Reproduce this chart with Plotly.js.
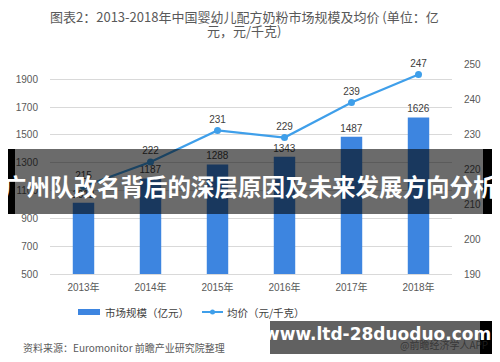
<!DOCTYPE html>
<html>
<head>
<meta charset="utf-8">
<script src="https://cdn.plot.ly/plotly-3.0.1.min.js"></script>
<style>html,body{margin:0;padding:0;background:#fff;}#chart{width:500px;height:362px;}</style>
</head>
<body>
<div id="chart"></div>
<script>
const years = ["2013年", "2014年", "2015年", "2016年", "2017年", "2018年"];
const marketSize = [1012, 1187, 1288, 1343, 1487, 1626];
const avgPrice = [215, 222, 231, 229, 239, 247];
const leftTicks = [500, 700, 900, 1100, 1300, 1500, 1700, 1900];
const rightTicks = [190, 200, 210, 220, 230, 240, 250];
const seriesNames = ["市场规模（亿元）", "均价（元/千克）"];
const titleLines = ["图表2：2013-2018年中国婴幼儿配方奶粉市场规模及均价 (单位：亿", "元，元/千克)"];
const sourceText = "资料来源：Euromonitor 前瞻产业研究院整理";
const bannerText = "广州队改名背后的深层原因及未来发展方向分析";
const siteText = "www.ltd-28duoduo.com";
const appText = "@前瞻经济学人APP";

const FONT = "Liberation Sans, Noto Sans CJK SC, sans-serif";
const CJK = "Noto Sans CJK SC, sans-serif";
const barColor = "#3d85e0";
const lineColor = "#3f9fea";

// plot area in pixels: x 50..452, y 64..274
const L = 50, R = 452, T = 64, B = 274;
const px = x => (x - L) / (R - L);
const py = y => (B - y) / (B - T);

const traces = [
  {
    type: "bar", x: years, y: marketSize, name: seriesNames[0],
    marker: {color: barColor}, text: marketSize.map(String), textposition: "outside",
    constraintext: "none",
    textfont: {size: 10, color: "#404040", family: FONT}, cliponaxis: false,
    showlegend: false, hoverinfo: "none"
  },
  {
    type: "scatter", mode: "lines+markers+text", x: years, y: avgPrice, yaxis: "y2",
    name: seriesNames[1], line: {color: lineColor, width: 2.2},
    marker: {color: lineColor, size: 7}, text: avgPrice.map(String),
    textposition: "top center", textfont: {size: 10, color: "#404040", family: FONT},
    cliponaxis: false, showlegend: false, hoverinfo: "none"
  }
];

const shapes = [
  // custom legend swatches
  {type: "rect", xref: "paper", yref: "paper", x0: px(78), x1: px(100), y0: py(309), y1: py(315),
   fillcolor: barColor, line: {width: 0}},
  {type: "line", xref: "paper", yref: "paper", x0: px(202), x1: px(223), y0: py(312), y1: py(312),
   line: {color: lineColor, width: 2}},
  {type: "circle", xref: "paper", yref: "paper", x0: px(210), x1: px(215), y0: py(309.5), y1: py(314.5),
   fillcolor: lineColor, line: {width: 0}},
  // overlay banner
  {type: "rect", layer: "above", xref: "paper", yref: "paper", x0: px(15), x1: px(483), y0: py(214), y1: py(149),
   fillcolor: "rgba(0,0,0,0.58)", line: {width: 0}},
  {type: "rect", layer: "above", xref: "paper", yref: "paper", x0: px(8), x1: px(15), y0: py(214), y1: py(149),
   fillcolor: "#000", line: {width: 0}},
  {type: "rect", layer: "above", xref: "paper", yref: "paper", x0: px(483), x1: px(492), y0: py(214), y1: py(149),
   fillcolor: "#000", line: {width: 0}},
  // bottom site banner
  {type: "rect", layer: "above", xref: "paper", yref: "paper", x0: px(270), x1: px(480), y0: py(354), y1: py(321),
   fillcolor: "rgba(0,0,0,0.62)", line: {width: 0}},
  {type: "rect", layer: "above", xref: "paper", yref: "paper", x0: px(480), x1: px(492), y0: py(354), y1: py(321),
   fillcolor: "#000", line: {width: 0}}
];

const annotations = [
  {text: titleLines[0], xref: "paper", yref: "paper", x: px(244), y: py(17), showarrow: false,
   font: {size: 13, color: "#595959", family: CJK}, xanchor: "center", yanchor: "middle"},
  {text: titleLines[1], xref: "paper", yref: "paper", x: px(244), y: py(31), showarrow: false,
   font: {size: 13, color: "#595959", family: CJK}, xanchor: "center", yanchor: "middle"},
  {text: seriesNames[0], xref: "paper", yref: "paper", x: px(103), y: py(312), showarrow: false,
   font: {size: 10.5, color: "#404040", family: CJK}, xanchor: "left", yanchor: "middle"},
  {text: seriesNames[1], xref: "paper", yref: "paper", x: px(225), y: py(312), showarrow: false,
   font: {size: 10.5, color: "#404040", family: CJK}, xanchor: "left", yanchor: "middle"},
  {text: sourceText, xref: "paper", yref: "paper", x: px(21), y: py(347), showarrow: false,
   font: {size: 10, color: "#595959", family: CJK}, xanchor: "left", yanchor: "middle"},
  {text: appText, xref: "paper", yref: "paper", x: px(490), y: py(344), showarrow: false,
   font: {size: 10, color: "rgba(40,40,40,0.75)", family: CJK}, xanchor: "right", yanchor: "middle"},
  {text: "<b>" + siteText + "</b>", xref: "paper", yref: "paper", x: px(377), y: py(334), showarrow: false,
   font: {size: 17, color: "#ffffff", family: "DejaVu Sans, sans-serif"}, xanchor: "center", yanchor: "middle"},
  {text: "<b>" + bannerText + "</b>", xref: "paper", yref: "paper", x: px(250), y: py(186), showarrow: false,
   font: {size: 23.5, color: "#ffffff", family: CJK}, xanchor: "center", yanchor: "middle"}
];

const layout = {
  width: 500, height: 362,
  margin: {l: L, r: 500 - R, t: T, b: 362 - B, pad: 0},
  paper_bgcolor: "#ffffff", plot_bgcolor: "#ffffff",
  font: {family: FONT, size: 10, color: "#595959"},
  bargap: 0.68,
  showlegend: false,
  xaxis: {
    type: "category", showgrid: false, zeroline: false, showline: true, linecolor: "#d9d9d9", linewidth: 1,
    ticks: "outside", ticklen: 4, tickcolor: "rgba(0,0,0,0)",
    tickfont: {size: 10, color: "#595959", family: FONT}
  },
  yaxis: {
    range: [500, 2010], tickmode: "array", tickvals: leftTicks, showgrid: true, gridcolor: "#d9d9d9",
    gridwidth: 1, zeroline: false, showline: false, ticks: "outside", ticklen: 9, tickcolor: "rgba(0,0,0,0)",
    tickfont: {size: 10, color: "#595959", family: FONT}
  },
  yaxis2: {
    overlaying: "y", side: "right", range: [190, 250], tickmode: "array", tickvals: rightTicks,
    showgrid: false, zeroline: false, showline: false, ticks: "outside", ticklen: 9, tickcolor: "rgba(0,0,0,0)",
    tickfont: {size: 10, color: "#595959", family: FONT}
  },
  shapes: shapes,
  annotations: annotations
};

Plotly.newPlot("chart", traces, layout, {staticPlot: true, displayModeBar: false});
</script>
</body>
</html>
